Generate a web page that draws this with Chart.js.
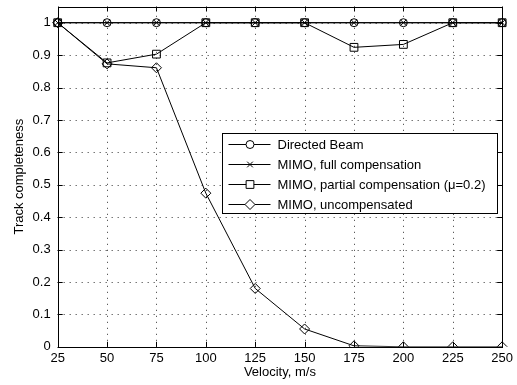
<!DOCTYPE html>
<html><head><meta charset="utf-8">
<script src="https://cdn.jsdelivr.net/npm/chart.js@4"></script>
<style>html,body{margin:0;padding:0;background:#fff}#w{width:517px;height:385px}</style>
</head><body><div id="w"><canvas id="c"></canvas></div>
<script>
const velocities = [25, 50, 75, 100, 125, 150, 175, 200, 225, 250];
const directedBeam = [1, 1, 1, 1, 1, 1, 1, 1, 1, 1];
const mimoFull = [1, 1, 1, 1, 1, 1, 1, 1, 1, 1];
const mimoPartial = [1, 0.876, 0.903, 1, 1, 1, 0.924, 0.933, 1, 1];
const mimoUncomp = [1, 0.873, 0.861, 0.474, 0.18, 0.055, 0.003, 0, 0, 0];
const seriesNames = ['Directed Beam', 'MIMO, full compensation', 'MIMO, partial compensation (\u03bc=0.2)', 'MIMO, uncompensated'];
const markerStyles = ['circle', 'crossRot', 'rect', 'rectRot'];
const yTicks = [0, 0.1, 0.2, 0.3, 0.4, 0.5, 0.6, 0.7, 0.8, 0.9, 1];
const FONT = '"Liberation Sans", Arial, Helvetica, sans-serif';

const seriesData = [directedBeam, mimoFull, mimoPartial, mimoUncomp];
const markerRadius = [4, 4, 5.5, 5];

const datasets = seriesData.map((d, i) => ({
  label: seriesNames[i],
  data: d,
  borderColor: '#000',
  borderWidth: 1,
  backgroundColor: 'rgba(0,0,0,0)',
  pointStyle: markerStyles[i],
  pointRadius: markerRadius[i],
  pointBorderColor: '#000',
  pointBorderWidth: 1,
  pointBackgroundColor: 'rgba(0,0,0,0)',
  tension: 0,
  fill: false
}));

const gridPlugin = {
  id: 'dotgrid',
  beforeDatasetsDraw(chart) {
    const ctx = chart.ctx, a = chart.chartArea;
    const xs = chart.scales.x, ys = chart.scales.y;
    ctx.save();
    ctx.strokeStyle = '#333';
    ctx.lineWidth = 1;
    ctx.setLineDash([1, 5]);
    ctx.beginPath();
    velocities.forEach((v, i) => {
      const x = Math.round(xs.getPixelForValue(i)) + 0.5;
      ctx.moveTo(x, a.bottom); ctx.lineTo(x, a.top);
    });
    yTicks.forEach(v => {
      const y = Math.round(ys.getPixelForValue(v)) + 0.5;
      ctx.moveTo(a.left, y); ctx.lineTo(a.right, y);
    });
    ctx.stroke();
    ctx.restore();
  },
  afterDatasetsDraw(chart) {
    const ctx = chart.ctx, a = chart.chartArea;
    const xs = chart.scales.x, ys = chart.scales.y;
    ctx.save();
    ctx.strokeStyle = '#000';
    ctx.lineWidth = 1;
    ctx.strokeRect(Math.round(a.left) + 0.5, Math.round(a.top) + 0.5, Math.round(a.right - a.left), Math.round(a.bottom - a.top));
    const tl = 5;
    ctx.beginPath();
    velocities.forEach((v, i) => {
      const x = Math.round(xs.getPixelForValue(i)) + 0.5;
      ctx.moveTo(x, a.bottom); ctx.lineTo(x, a.bottom - tl);
      ctx.moveTo(x, a.top); ctx.lineTo(x, a.top + tl);
    });
    yTicks.forEach(v => {
      const y = Math.round(ys.getPixelForValue(v)) + 0.5;
      ctx.moveTo(a.left, y); ctx.lineTo(a.left + tl, y);
      ctx.moveTo(a.right, y); ctx.lineTo(a.right - tl, y);
    });
    ctx.stroke();

    // legend box
    const lx = 222.5, ly = 133.5, lw = 275, lh = 80;
    ctx.fillStyle = '#fff';
    ctx.fillRect(lx, ly, lw, lh);
    ctx.strokeRect(lx, ly, lw, lh);
    ctx.font = '13px ' + FONT;
    ctx.textBaseline = 'middle';
    ctx.textAlign = 'left';
    const rowY = [144, 164, 184, 204];
    seriesNames.forEach((name, i) => {
      const y = rowY[i] + 0.5;
      ctx.strokeStyle = '#000';
      ctx.beginPath();
      ctx.moveTo(lx + 6, y); ctx.lineTo(lx + 48, y);
      ctx.stroke();
      ctx.fillStyle = '#fff';
      Chart.helpers.drawPoint(ctx, { pointStyle: markerStyles[i], radius: markerRadius[i], borderWidth: 1 }, lx + 27.5, y);
      ctx.fillStyle = '#000';
      ctx.fillText(name, lx + 55, rowY[i] + 1);
    });
    ctx.restore();
  }
};

new Chart(document.getElementById('c'), {
  type: 'line',
  data: { labels: velocities.map(String), datasets },
  options: {
    responsive: true,
    maintainAspectRatio: false,
    animation: false,
    layout: { padding: { left: 12, right: 9, top: 6, bottom: 5 } },
    plugins: { legend: { display: false }, tooltip: { enabled: false } },
    scales: {
      x: {
        type: 'category',
        offset: false,
        grid: { display: false, drawTicks: false },
        border: { display: false },
        ticks: { color: '#000', font: { family: FONT, size: 13 }, padding: 4, maxRotation: 0, autoSkip: false },
        title: { display: true, text: 'Velocity, m/s', color: '#000', font: { family: FONT, size: 13 }, padding: { top: -6, bottom: 0 } }
      },
      y: {
        min: 0, max: 1.05,
        afterBuildTicks(scale) { scale.ticks = yTicks.map(v => ({ value: v })); },
        afterFit(scale) { scale.paddingTop = 0; },
        grid: { display: false, drawTicks: false },
        border: { display: false },
        ticks: { color: '#000', font: { family: FONT, size: 13 }, padding: 7, callback: v => String(Math.round(v * 10) / 10) },
        title: { display: true, text: 'Track completeness', color: '#000', font: { family: FONT, size: 13 }, padding: { top: 0, bottom: -2 } }
      }
    }
  },
  plugins: [gridPlugin]
});
</script>
</body></html>
